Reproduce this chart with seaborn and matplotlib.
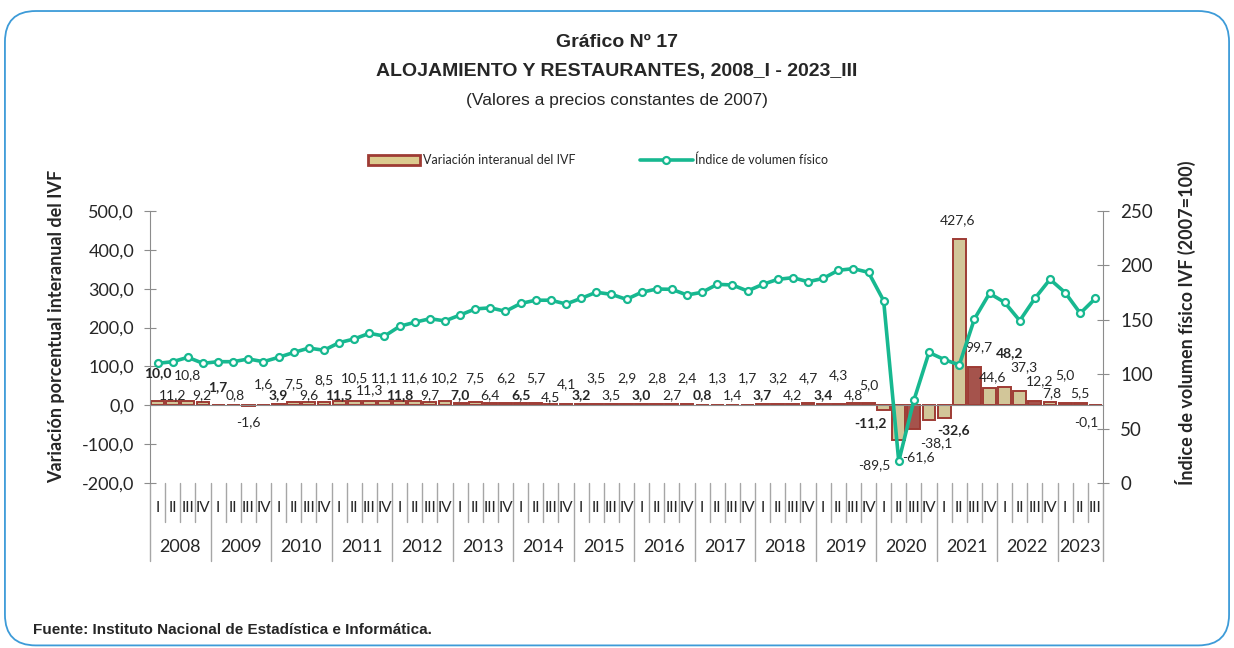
import matplotlib
matplotlib.use("Agg")
import matplotlib.pyplot as plt
from matplotlib.patches import FancyBboxPatch, Patch
from matplotlib.lines import Line2D
import numpy as np
import pandas as pd
import seaborn as sns

# ---- data -------------------------------------------------------------
YEARS = [str(y) for y in range(2008, 2024)]
QUARTERS = ["I", "II", "III", "IV"]

# variacion interanual del IVF (%), 2008_I .. 2023_III
VARIACION = [
    10.0, 11.2, 10.8, 9.2,
    1.7, 0.8, -1.6, 1.6,
    3.9, 7.5, 9.6, 8.5,
    11.5, 10.5, 11.3, 11.1,
    11.8, 11.6, 9.7, 10.2,
    7.0, 7.5, 6.4, 6.2,
    6.5, 5.7, 4.5, 4.1,
    3.2, 3.5, 3.5, 2.9,
    3.0, 2.8, 2.7, 2.4,
    0.8, 1.3, 1.4, 1.7,
    3.7, 3.2, 4.2, 4.7,
    3.4, 4.3, 4.8, 5.0,
    -11.2, -89.5, -61.6, -38.1,
    -32.6, 427.6, 99.7, 44.6,
    48.2, 37.3, 12.2, 7.8,
    5.0, 5.5, -0.1,
]

# indice de volumen fisico (2007=100)
IVF = [
    110.0, 111.5, 115.5, 110.0,
    111.5, 111.5, 114.0, 111.5,
    115.5, 120.0, 124.0, 122.0,
    129.0, 132.4, 137.6, 135.0,
    144.0, 147.7, 151.0, 149.0,
    154.4, 160.0, 161.0, 157.8,
    165.0, 168.0, 168.0, 164.5,
    169.7, 175.3, 173.4, 168.8,
    175.3, 178.3, 178.0, 172.8,
    175.3, 182.6, 182.0, 176.5,
    182.5, 187.2, 188.7, 185.0,
    188.0, 195.5, 197.0, 193.6,
    167.6, 20.0, 76.0, 120.0,
    113.5, 108.5, 150.7, 174.3,
    166.0, 149.2, 169.7, 187.2,
    175.0, 156.0, 169.7,
]

LEFT_TICKS = [-200, -100, 0, 100, 200, 300, 400, 500]
RIGHT_TICKS = [0, 50, 100, 150, 200, 250]

# ---- styling ----------------------------------------------------------
TEAL = "#17B890"
BAR_EDGE = "#9E3B34"
BAR_GOLD = "#DCCB8F"
BAR_RED = "#B4463D"
RED_BARS = {50, 54, 58}
FRAME = "#3D9BD8"

# label placement overrides: index -> (x offset in categories, y in left-axis units)
LABEL_POS = {
    0: (0, 82), 2: (0, 77), 3: (-0.1, 26), 4: (0, 48), 5: (0.1, 26),
    6: (0, -44), 7: (0, 54),
    9: (0, 54), 11: (0, 64), 14: (0, 39), 26: (0, 21), 27: (0, 54),
    45: (0, 77), 47: (0, 51),
    48: (-0.9, -46), 49: (-1.6, -154), 50: (0.3, -134), 51: (0.5, -98),
    52: (0.6, -64), 53: (-0.1, 476), 54: (0.3, 149), 55: (0.2, 72),
    56: (0.3, 134), 57: (0.3, 98), 58: (0.3, 61), 59: (0.1, 31),
    60: (0, 77), 61: (0, 31), 62: (-0.6, -44),
}

sns.set_style("white")
plt.rcParams["font.family"] = ["Lato", "DejaVu Sans"]
NARROW = ["Liberation Sans", "DejaVu Sans"]

n = len(VARIACION)
df = pd.DataFrame({"idx": np.arange(n), "var": VARIACION, "ivf": IVF})

fig = plt.figure(figsize=(12.34, 6.48), dpi=100)
fig.patch.set_facecolor("white")

# rounded frame
frame = FancyBboxPatch((0.004, 0.004), 0.992, 0.979,
                       boxstyle="round,pad=0,rounding_size=0.025",
                       transform=fig.transFigure, fill=False,
                       edgecolor=FRAME, linewidth=1.3,
                       mutation_aspect=1234 / 648)
fig.patches.append(frame)

ax = fig.add_axes([0.1216, 0.2546, 0.7722, 0.4198])
ax.patch.set_alpha(0)

colors = [BAR_RED if i in RED_BARS else BAR_GOLD for i in range(n)]
sns.barplot(data=df, x="idx", y="var", hue="idx", palette=colors,
            legend=False, width=0.85, edgecolor=BAR_EDGE, linewidth=1.4,
            ax=ax, zorder=2)

ax.set_xlim(-0.5, n - 0.5)
ax.set_ylim(-200, 500)
ax.set_yticks(LEFT_TICKS)
ax.set_yticklabels([f"{v:.1f}".replace(".", ",") for v in LEFT_TICKS],
                   fontsize=13)
ax.set_xlabel("")
ax.set_ylabel("Variación porcentual interanual del IVF", fontsize=13,
              fontweight="bold")
ax.yaxis.set_label_coords(-0.089, 0.574)

for side in ["top", "right"]:
    ax.spines[side].set_visible(False)
ax.spines["left"].set_color("#8C8C8C")
ax.spines["bottom"].set_position(("data", 0))
ax.spines["bottom"].set_color("#8C8C8C")
ax.tick_params(axis="y", direction="inout", length=9, color="#8C8C8C", pad=7)
ax.set_xticks(np.arange(n + 1) - 0.5)
ax.set_xticklabels([])
ax.tick_params(axis="x", direction="inout", length=6, color="#8C8C8C")

# data labels
for i, v in enumerate(VARIACION):
    dx, y = LABEL_POS.get(i, (0, 69 if i % 2 == 1 else 26))
    if i < 4:
        dx, y = LABEL_POS.get(i, (0, 26 if i % 2 == 1 else 69))
    bold = (i % 4 == 0) and i < 60
    ax.text(i + dx, y, f"{v:.1f}".replace(".", ","), ha="center",
            va="center", fontsize=10, fontweight="bold" if bold else "normal",
            zorder=5)

# two-level category axis
xt = ax.get_xaxis_transform()
for k in range(n + 1):
    is_year = (k % 4 == 0) or k == n
    ax.plot([k - 0.5, k - 0.5], [0, -0.285 if is_year else -0.143],
            transform=xt, color="#A6A6A6", linewidth=1, clip_on=False)
for i in range(n):
    ax.text(i, -0.092, QUARTERS[i % 4], transform=xt, ha="center",
            va="center", fontsize=11)
for y_i, year in enumerate(YEARS):
    start = y_i * 4
    end = min(start + 4, n)
    ax.text((start + end - 1) / 2, -0.235, year, transform=xt,
            ha="center", va="center", fontsize=13)

# right axis: indice de volumen fisico
ax2 = ax.twinx()
sns.lineplot(data=df, x="idx", y="ivf", ax=ax2, color=TEAL, linewidth=2.6,
             marker="o", markersize=5, markerfacecolor="white",
             markeredgecolor=TEAL, markeredgewidth=1.6, zorder=4)
ax2.set_ylim(0, 250)
ax2.set_xlim(-0.5, n - 0.5)
ax2.set_yticks(RIGHT_TICKS)
ax2.set_yticklabels([str(v) for v in RIGHT_TICKS], fontsize=13.5)
ax2.set_ylabel("Índice de volumen físico IVF (2007=100)", fontsize=13,
               fontweight="bold")
ax2.yaxis.set_label_coords(1.0755, 0.59)
ax2.set_xlabel("")
for side in ["top", "left", "bottom"]:
    ax2.spines[side].set_visible(False)
ax2.spines["right"].set_color("#8C8C8C")
ax2.tick_params(axis="y", direction="inout", length=9, color="#8C8C8C", pad=8)

# legend
handles = [
    Patch(facecolor=BAR_GOLD, edgecolor=BAR_EDGE, linewidth=2),
    Line2D([0], [0], color=TEAL, linewidth=2.6, marker="o", markersize=5,
           markerfacecolor="white", markeredgecolor=TEAL,
           markeredgewidth=1.6),
]
fig.legend(handles, ["Variación interanual del IVF", "Índice de volumen físico"],
           loc="center", bbox_to_anchor=(0.4846, 0.753), ncol=2, frameon=False,
           fontsize=9, handlelength=4.2, handleheight=0.9, columnspacing=5.2,
           handletextpad=0.2)

# titles
fig.text(0.5, 0.935, "Gráfico Nº 17", ha="center", va="center",
         fontsize=14, fontweight="bold", family=NARROW)
fig.text(0.5, 0.889, "ALOJAMIENTO Y RESTAURANTES, 2008_I - 2023_III",
         ha="center", va="center", fontsize=14, fontweight="bold",
         family=NARROW)
fig.text(0.5, 0.845, "(Valores a precios constantes de 2007)", ha="center",
         va="center", fontsize=12.5, family=NARROW)
fig.text(0.027, 0.028, "Fuente: Instituto Nacional de Estadística e Informática.",
         ha="left", va="center", fontsize=11, fontweight="bold",
         family=NARROW)

fig.savefig("out.png", dpi=100, facecolor="white")
